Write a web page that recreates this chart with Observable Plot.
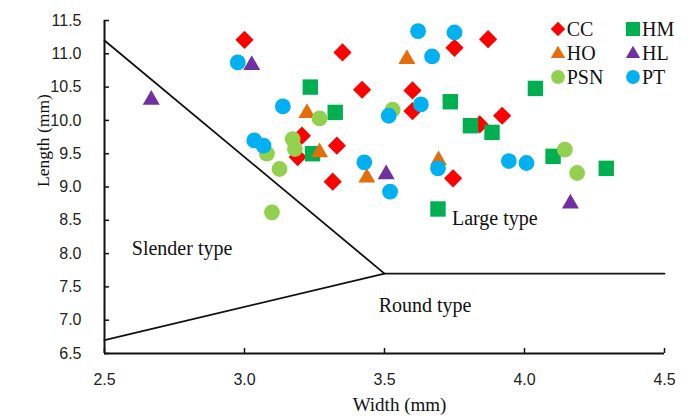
<!DOCTYPE html>
<html>
<head>
<meta charset="utf-8">
<script src="https://cdn.jsdelivr.net/npm/d3@7"></script>
<script src="https://cdn.jsdelivr.net/npm/@observablehq/plot@0.6"></script>
<style>
  html, body { margin: 0; padding: 0; background: #fff; }
  #wrap { position: relative; width: 697px; height: 419px; }
  #wrap svg { display: block; }
  .leg { position: absolute; display: flex; align-items: center; height: 24px;
         font-family: "Liberation Serif", "Times New Roman", serif; font-size: 20px; color: #111; line-height: 24px; }
  .leg span { margin-left: 1px; }
</style>
</head>
<body>
<div id="wrap"></div>
<script>
// ---- data (width mm, length mm) ----
const xTicks = [2.5, 3.0, 3.5, 4.0, 4.5];
const yTicks = [6.5, 7.0, 7.5, 8.0, 8.5, 9.0, 9.5, 10.0, 10.5, 11.0, 11.5];

const seriesNames   = ["CC", "HM", "HO", "HL", "PSN", "PT"];
const seriesColors  = ["#FF0000", "#00B050", "#E46C0A", "#7030A0", "#92D050", "#00B0F0"];
const seriesSymbols = ["diamond2", "square", "triangle", "triangle", "circle", "circle"];

const CC = [[3.00, 11.21], [3.35, 11.02], [3.75, 11.09], [3.87, 11.22], [3.42, 10.46], [3.60, 10.45],
            [3.60, 10.14], [3.84, 9.94], [3.92, 10.07], [3.205, 9.77], [3.19, 9.45], [3.33, 9.62],
            [3.315, 9.08], [3.745, 9.13]];
const HM = [[3.235, 10.50], [3.324, 10.12], [3.735, 10.28], [3.807, 9.92], [3.884, 9.82], [4.039, 10.48],
            [3.243, 9.50], [3.691, 8.67], [4.102, 9.46], [4.292, 9.28]];
const HO = [[3.58, 10.92], [3.223, 10.11], [3.268, 9.52], [3.437, 9.14], [3.693, 9.40]];
const HL = [[2.667, 10.31], [3.026, 10.83], [3.506, 9.19], [4.164, 8.75]];
const PSN = [[3.268, 10.03], [3.529, 10.16], [3.08, 9.50], [3.125, 9.27], [3.098, 8.62], [3.172, 9.72],
             [3.18, 9.57], [4.144, 9.56], [4.188, 9.21]];
const PT = [[2.976, 10.87], [3.137, 10.21], [3.62, 11.34], [3.75, 11.32], [3.67, 10.96], [3.63, 10.24],
            [3.515, 10.07], [3.035, 9.70], [3.068, 9.62], [3.428, 9.37], [3.52, 8.93], [3.691, 9.28],
            [3.944, 9.39], [4.007, 9.36]];
const seriesData = [CC, HM, HO, HL, PSN, PT];

// boundary lines between grain types
const upperBoundary = [[2.5, 11.2], [3.5, 7.7], [4.5, 7.7]];
const lowerBoundary = [[2.5, 6.7], [3.5, 7.7]];

const regionLabels = [
  {name: "Slender type", w: 2.777, l: 8.07},
  {name: "Large type",   w: 3.894, l: 8.52},
  {name: "Round type",   w: 3.645, l: 7.22}
];

// ---- marker sizes per series ----
const seriesR = [8.2, 8.7, 6.3, 6.3, 7.9, 7.9];
const legendR = [6.5, 8.0, 5.3, 5.3, 6.9, 6.9];

const fmt = d3.format(".1f");
const serif = "'Liberation Serif', 'Times New Roman', serif";
const sans = "'Liberation Sans', Arial, sans-serif";

const dotMarks = seriesData.map((arr, i) =>
  Plot.dot(arr, {x: d => d[0], y: d => d[1], fill: seriesColors[i], symbol: seriesSymbols[i], r: seriesR[i]})
);

const chart = Plot.plot({
  width: 697,
  height: 419,
  marginLeft: 104,
  marginRight: 33,
  marginTop: 20,
  marginBottom: 66,
  style: {background: "#fff", color: "#111"},
  x: {domain: [2.5, 4.5]},
  y: {domain: [6.5, 11.5]},
  marks: [
    Plot.line(upperBoundary, {x: d => d[0], y: d => d[1], stroke: "#111", strokeWidth: 1.8}),
    Plot.line(lowerBoundary, {x: d => d[0], y: d => d[1], stroke: "#111", strokeWidth: 1.8}),
    Plot.text(regionLabels, {x: "w", y: "l", text: "name", fontFamily: serif, fontSize: 20, fill: "#111",
                             textAnchor: "middle", lineAnchor: "middle"}),
    ...dotMarks,
    Plot.ruleX([xTicks[0]], {stroke: "#111", strokeWidth: 2}),
    Plot.ruleY([yTicks[0]], {stroke: "#111", strokeWidth: 2}),
    Plot.axisX(xTicks, {tickSize: -5, tickPadding: 25, tickFormat: fmt, fontSize: 16, fontFamily: sans,
                        label: null, stroke: "#111", strokeWidth: 1.5, fill: "#222"}),
    Plot.axisY(yTicks, {tickSize: -5, tickPadding: 28, tickFormat: fmt, fontSize: 16, fontFamily: sans,
                        label: null, stroke: "#111", strokeWidth: 1.5, fill: "#222"}),
    Plot.text(["Width (mm)"], {frameAnchor: "bottom", dy: 51, dx: 15, fontFamily: serif, fontSize: 19,
                               fill: "#111", lineAnchor: "middle"}),
    Plot.text(["Length (mm)"], {frameAnchor: "left", dx: -61, rotate: -90, fontFamily: serif, fontSize: 17.5,
                                fill: "#111", lineAnchor: "middle"})
  ]
});

const wrap = document.getElementById("wrap");
wrap.appendChild(chart);

// ---- legend (two columns, three rows) ----
const legendCols = [557.7, 633];
const legendRows = [29, 53, 77];
const d3Symbols = {diamond2: d3.symbolDiamond2, square: d3.symbolSquare, triangle: d3.symbolTriangle, circle: d3.symbolCircle};
seriesNames.forEach((name, i) => {
  const col = i % 2, row = Math.floor(i / 2);
  const cx = legendCols[col], cy = legendRows[row];
  const div = document.createElement("div");
  div.className = "leg";
  div.style.left = (cx - 8) + "px";
  div.style.top = (cy - 12) + "px";
  const path = d3.symbol(d3Symbols[seriesSymbols[i]], Math.PI * legendR[i] * legendR[i])();
  const yOff = seriesSymbols[i] === "triangle" ? 13 : 12;
  div.innerHTML = `<svg width="16" height="24"><path transform="translate(8,${yOff})" d="${path}" fill="${seriesColors[i]}"/></svg><span>${name}</span>`;
  wrap.appendChild(div);
});
</script>
</body>
</html>
